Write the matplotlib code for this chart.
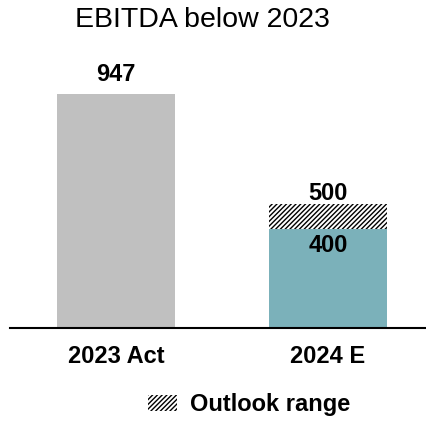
import matplotlib.pyplot as plt
from matplotlib.patches import Patch

plt.rcParams['font.family'] = ['Liberation Sans', 'DejaVu Sans']
plt.rcParams['hatch.linewidth'] = 1.0

categories = ['2023 Act', '2024 E']
base_values = [947, 400]
range_top = [None, 500]
colors = ['#c0c0c0', '#7bb1ba']

fig = plt.figure(figsize=(4.27, 4.24), dpi=100)
ax = fig.add_axes([10/427, 1 - 328/424, 417/427, 268/424])

x = [0, 1]
w = 0.557
ax.bar(x, base_values, width=w, color=colors, linewidth=0, zorder=2)
# outlook range on top of the 2024 bar
ax.bar(x[1], range_top[1] - base_values[1], bottom=base_values[1], width=w,
       facecolor='white', edgecolor='black', hatch='///////', linewidth=0, zorder=2)

ax.set_xlim(-0.5, 1.467)
ax.set_ylim(0, 1085)

ax.text(x[0], base_values[0] + 80, str(base_values[0]), ha='center', va='center',
        fontsize=17, fontweight='bold')
ax.text(x[1], range_top[1] + 45, str(range_top[1]), ha='center', va='center',
        fontsize=17, fontweight='bold')
ax.text(x[1], base_values[1] - 65, str(base_values[1]), ha='center', va='center',
        fontsize=17, fontweight='bold')

for s in ['top', 'right', 'left']:
    ax.spines[s].set_visible(False)
ax.spines['bottom'].set_linewidth(1.5)
ax.set_yticks([])
ax.set_xticks(x)
ax.set_xticklabels(categories, fontsize=17, fontweight='bold')
ax.tick_params(axis='x', length=0, pad=12)

fig.text(202/427, 1 - 20/424, 'EBITDA below 2023', ha='center', va='center', fontsize=20.5)

h = Patch(facecolor='white', edgecolor='black', hatch='///////', linewidth=0)
fig.legend([h], ['Outlook range'], loc='center', bbox_to_anchor=(249/427, 1 - 405/424),
           frameon=False, prop={'weight': 'bold', 'size': 17},
           handlelength=1.23, handleheight=0.68, handletextpad=0.55)

fig.savefig('out.png', dpi=100)
